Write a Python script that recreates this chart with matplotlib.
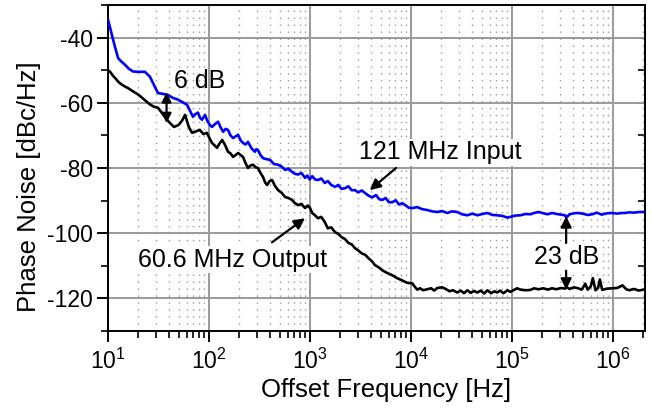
#importing the libraries
import matplotlib
matplotlib.use("Agg")
import matplotlib.pyplot as plt

#data
#121 MHz input (blue)
blue_freq = [10, 10.5, 11.2, 12, 12.6, 13.5, 14.7, 16, 17.7, 20,
             23.2, 26, 28.5, 31.2, 34, 38.4, 44, 49, 54, 60.6,
             65, 69.4, 73, 77.8, 81, 85.3, 91.4, 96, 102, 107,
             115, 123, 130, 138, 146, 154, 163, 173, 183, 194,
             205, 217, 230, 243, 264, 285, 295, 305, 323, 343,
             372, 402, 440, 483, 520, 567, 610, 664, 710, 762,
             820, 893, 940, 990, 1050, 1120, 1200, 1290, 1400, 1500,
             1620, 1770, 1900, 2050, 2220, 2400, 2580, 2790, 3000, 3250,
             3510, 3800, 4130, 4500, 4850, 5200, 5600, 6050, 6520, 7050,
             7600, 8200, 8780, 9500, 10300, 11500, 12800, 14500, 16200, 18200,
             20300, 22800, 25500, 28700, 32000, 36100, 40500, 45300, 51000, 57000,
             64000, 71000, 80000, 90000, 96000, 108000, 121000, 136000, 152000, 165000,
             182000, 205000, 225000, 249000, 275000, 305000, 335000, 345000, 370000, 410000,
             450000, 500000, 560000, 620000, 690000, 770000, 870000, 973000, 1100000, 1200000,
             1310000, 1450000, 1600000, 1800000, 2000000]
blue_pn = [-34.5, -37, -40.5, -44, -46.3, -47.3, -48.3, -49.5, -50.4, -50.5,
           -50.5, -52, -54.5, -57, -57.2, -57.5, -58.5, -59, -59.7, -60.6,
           -62.5, -64.3, -63.5, -63, -64.5, -65.2, -63.7, -65.5, -66.8, -67.4,
           -66.5, -65.8, -67.5, -68.9, -68, -68.3, -70, -70.8, -70.3, -69.8,
           -71.5, -72.3, -72.8, -72, -74, -75, -74.2, -74.5, -76, -77,
           -77.3, -77.5, -78.8, -79, -79.5, -80.6, -80.2, -81.2, -81.8, -82,
           -81.5, -83, -82.3, -83.5, -82.5, -83.5, -83.7, -83.2, -84.6, -84,
           -85.2, -85.8, -85.2, -86.4, -86.2, -85.6, -86.8, -86.8, -87.5, -86.9,
           -87.7, -88.5, -89, -88.3, -89.6, -89.8, -89.2, -90.5, -90.5, -89.9,
           -91.2, -90.8, -91.4, -92.2, -92.3, -92, -92.6, -92.9, -93.3, -93.5,
           -93.2, -93.8, -93.3, -93.5, -94.2, -94.5, -94, -94.5, -94.1, -93.8,
           -94.4, -94.5, -94.7, -95.2, -95, -94.6, -94.5, -94.1, -94.2, -93.8,
           -93.5, -93.9, -94.2, -93.8, -94.1, -94.3, -94.5, -95.2, -94.2, -93.9,
           -93.8, -94, -94.4, -94.2, -93.7, -94.3, -93.9, -93.8, -94, -93.8,
           -93.8, -93.6, -93.7, -93.5, -93.5]

#60.6 MHz output (black)
black_freq = [10, 10.5, 11.2, 12, 12.6, 13.5, 14.7, 16, 17.7, 20,
              23.2, 26, 28.5, 31.2, 34, 38.4, 42, 45, 50, 54,
              58, 63, 68, 74, 81, 88, 95, 101, 107, 113,
              120, 127, 135, 144, 154, 163, 173, 184, 194, 205,
              217, 230, 243, 258, 273, 290, 305, 323, 343, 360,
              376, 398, 421, 450, 483, 520, 567, 610, 664, 710,
              762, 820, 893, 950, 1000, 1050, 1120, 1200, 1290, 1400,
              1500, 1620, 1770, 1900, 2050, 2220, 2400, 2580, 2790, 3000,
              3250, 3510, 3800, 4100, 4400, 4800, 5200, 5800, 6520, 7300,
              8200, 9100, 10300, 11000, 11500, 12300, 13200, 14500, 15800, 17000,
              18200, 20300, 22000, 24000, 26000, 28700, 31000, 33500, 36100, 39000,
              42000, 45300, 49000, 53000, 57000, 62000, 67000, 71000, 76000, 82000,
              90000, 96000, 103000, 112000, 121000, 136000, 152000, 165000, 182000, 205000,
              225000, 249000, 275000, 305000, 335000, 345000, 370000, 410000, 450000, 490000,
              530000, 560000, 600000, 630000, 670000, 710000, 740000, 780000, 870000, 973000,
              1100000, 1240000, 1350000, 1450000, 1600000, 1800000, 2000000]
black_pn = [-50, -50.5, -51.7, -52.7, -53.5, -54.3, -55, -55.6, -56.5, -57.5,
            -59.2, -60.5, -61.2, -61.5, -63, -65.2, -66.5, -67.4, -66.8, -65.5,
            -63.7, -67.4, -69.2, -68.8, -68.3, -69.6, -69.2, -70.8, -72.3, -73,
            -73.8, -72.5, -71.4, -72.9, -75, -75.5, -76.6, -76, -75.4, -76,
            -76.6, -78.5, -80, -79.2, -79, -79.8, -80, -81.5, -82.8, -84.5,
            -85.2, -84, -83.7, -85.5, -86.8, -87.5, -88.9, -89.2, -89.8, -90.8,
            -91.4, -91, -92.3, -91.5, -92.3, -93.8, -94.5, -95.4, -95, -96.6,
            -98.5, -98.2, -99.7, -100.2, -101.2, -101.8, -103, -103.4, -104.6, -105.3,
            -106.2, -106.6, -107.7, -108.6, -109.8, -110.5, -111.4, -112.2, -112.9, -113.8,
            -114.5, -115.2, -115.4, -116.6, -117.3, -116.9, -117.5, -117.2, -116.9, -117.6,
            -116.8, -116.6, -117.1, -117.8, -117.5, -118.2, -117.6, -118.4, -117.5, -118.3,
            -117.7, -118.2, -117.6, -118.5, -117.5, -118.4, -117.8, -118.2, -117.6, -118.4,
            -117.5, -118, -117.5, -116.9, -117.3, -117.5, -117.4, -116.9, -117.2, -116.9,
            -117.3, -116.9, -117.2, -116.8, -117, -116.5, -117.1, -116.6, -116.9, -117.3,
            -115.5, -117.3, -116.4, -113.8, -117.5, -116.8, -114.2, -117.4, -117, -116.9,
            -116.8, -116, -117.2, -117.5, -117.1, -117.6, -117.3]

#axis ticks and labels
x_ticks = [1e1, 1e2, 1e3, 1e4, 1e5, 1e6]
x_tick_labels = [r"$\mathregular{10^{1}}$", r"$\mathregular{10^{2}}$", r"$\mathregular{10^{3}}$",
                 r"$\mathregular{10^{4}}$", r"$\mathregular{10^{5}}$", r"$\mathregular{10^{6}}$"]
y_ticks = [-120, -100, -80, -60, -40]
y_minor_ticks = [-130, -110, -90, -70, -50, -30]

plt.rcParams['font.family'] = ['Liberation Sans', 'DejaVu Sans']
plt.rcParams['mathtext.fontset'] = 'custom'
plt.rcParams['mathtext.rm'] = 'Liberation Sans'
plt.rcParams['axes.unicode_minus'] = False

#main function
def main():
    assert len(blue_freq) == len(blue_pn)
    assert len(black_freq) == len(black_pn)

    fig = plt.figure(figsize=(6.52, 4.08), dpi=100)
    ax = fig.add_axes([108 / 652, 1 - 331 / 408, 537 / 652, 326 / 408])

    ax.plot(blue_freq, blue_pn, color='#0000ff', lw=1.9, zorder=3)
    ax.plot(black_freq, black_pn, color='black', lw=1.9, zorder=3)

    ax.set_xscale('log')
    ax.set_xlim(10, 2.07e6)
    ax.set_ylim(-130, -30)

    #grid: solid decades / 20 dB, dotted minor decades
    ax.set_axisbelow(True)
    ax.grid(True, which='major', color='#9a9a9a', lw=1.4)
    ax.grid(True, which='minor', axis='x', color='#9a9a9a', lw=1.0, ls=(0, (1, 4)))

    ax.set_xticks(x_ticks)
    ax.set_xticklabels(x_tick_labels)
    ax.set_yticks(y_ticks)
    ax.set_yticks(y_minor_ticks, minor=True)
    ax.tick_params(which='major', direction='out', length=8, width=1.4, labelsize=16.5)
    ax.tick_params(which='minor', direction='out', length=5, width=1.2)
    ax.tick_params(axis='x', which='major', pad=5)
    ax.tick_params(axis='y', which='major', pad=3)

    for sp in ax.spines.values():
        sp.set_linewidth(1.4)

    #inward ticks on the right side
    sec = ax.secondary_yaxis('right')
    sec.set_yticks(y_ticks)
    sec.set_yticks(y_minor_ticks, minor=True)
    sec.tick_params(which='both', direction='in', labelright=False, length=5, width=1.2)
    sec.spines['right'].set_linewidth(1.4)

    ax.set_xlabel('Offset Frequency [Hz]', fontsize=18.5, labelpad=3, x=0.517)
    ax.set_ylabel('Phase Noise [dBc/Hz]', fontsize=18.5, labelpad=4, y=0.442)

    box = dict(facecolor='white', edgecolor='none', pad=1)
    arrow = dict(arrowstyle='-|>', color='black', lw=1.6, mutation_scale=16,
                 shrinkA=0, shrinkB=0)
    arrow2 = dict(arrowstyle='<|-|>', color='black', lw=1.6, mutation_scale=14,
                  shrinkA=0, shrinkB=0)

    #6 dB
    ax.annotate('', xy=(38, -56.8), xytext=(38, -66.2), arrowprops=arrow2, zorder=5)
    ax.text(80, -53.2, '6 dB', fontsize=18, ha='center', va='center', zorder=4)

    #labels with arrows
    ax.annotate('', xy=(3900, -86.8), xytext=(7100, -80), arrowprops=arrow, zorder=5)
    ax.text(19500, -75.2, '121 MHz Input', fontsize=18, ha='center', va='center',
            bbox=box, zorder=4)
    ax.annotate('', xy=(890, -95.4), xytext=(420, -102.8), arrowprops=arrow, zorder=5)
    ax.text(172, -108.2, '60.6 MHz Output', fontsize=18, ha='center', va='center',
            bbox=box, zorder=4)

    #23 dB
    ax.annotate('', xy=(343000, -94.8), xytext=(343000, -103), arrowprops=arrow, zorder=5)
    ax.annotate('', xy=(343000, -117.3), xytext=(343000, -111.5), arrowprops=arrow, zorder=5)
    ax.text(350000, -107.2, '23 dB', fontsize=18, ha='center', va='center',
            bbox=box, zorder=4)

    fig.savefig('out.png', dpi=100)

if __name__ == "__main__":
    main()
